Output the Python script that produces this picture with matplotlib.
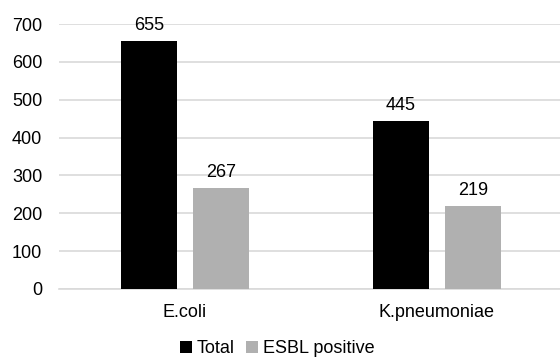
import matplotlib
matplotlib.use("Agg")
import matplotlib.pyplot as plt
import numpy as np

categories = ["E.coli", "K.pneumoniae"]
series_names = ["Total", "ESBL positive"]
total = [655, 445]
esbl_positive = [267, 219]
y_ticks = [0, 100, 200, 300, 400, 500, 600, 700]

plt.rcParams["font.family"] = ["Liberation Sans", "DejaVu Sans"]

fig = plt.figure(figsize=(5.6, 3.59), dpi=100)
ax = fig.add_axes([0.105, 0.195, 0.9, 0.738])

x = np.arange(len(categories))
width = 0.222
offset = 0.143
colors = ["#000000", "#B0B0B0"]
fs = 13

for vals, name, col, sign in [(total, series_names[0], colors[0], -1),
                              (esbl_positive, series_names[1], colors[1], 1)]:
    bars = ax.bar(x + sign * offset, vals, width, color=col, label=name, zorder=3)
    for b, v in zip(bars, vals):
        ax.annotate(str(v), (b.get_x() + b.get_width() / 2, v),
                    xytext=(0, 5), textcoords="offset points",
                    ha="center", va="bottom", fontsize=fs, color="#000000")

ax.set_xlim(-0.5, 1.5)
ax.set_ylim(0, 700)
ax.set_yticks(y_ticks)
ax.set_xticks(x)
ax.set_xticklabels(categories)
ax.tick_params(axis="both", length=0, labelsize=fs, colors="#000000")
ax.tick_params(axis="x", pad=11)
ax.tick_params(axis="y", pad=12)
ax.yaxis.grid(True, color="#D9D9D9", linewidth=1.2, zorder=0)
for s in ["top", "right", "left"]:
    ax.spines[s].set_visible(False)
ax.spines["bottom"].set_color("#D9D9D9")
ax.spines["bottom"].set_linewidth(1.2)

fig.legend(loc="center", bbox_to_anchor=(0.495, 0.028), ncol=2, frameon=False,
           fontsize=fs, handlelength=0.7, handleheight=0.7, handletextpad=0.25,
           columnspacing=0.6, borderpad=0)

fig.savefig("out.png", dpi=100)
